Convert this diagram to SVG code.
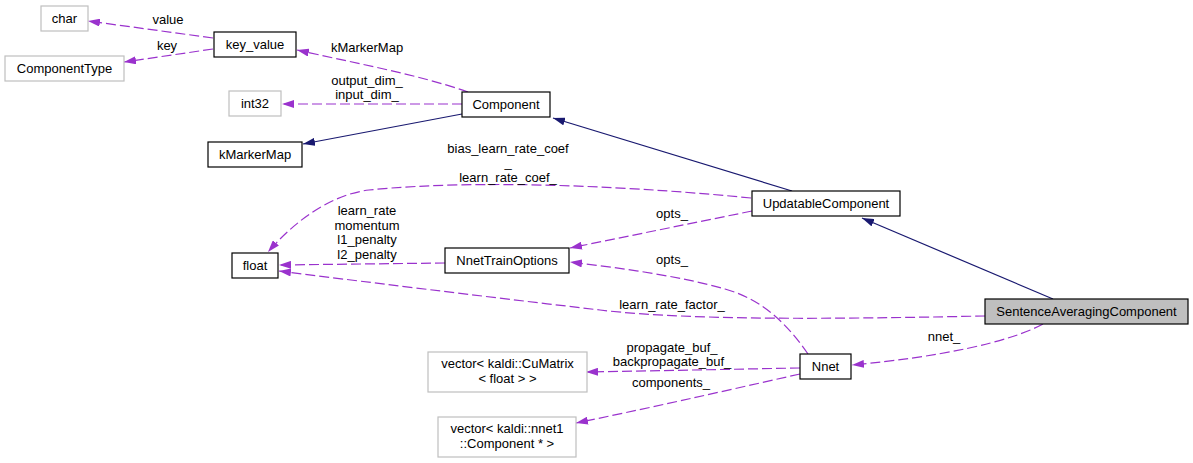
<svg xmlns="http://www.w3.org/2000/svg" width="1193" height="463" viewBox="0 0 1193 463">
<defs>
<style>
.n rect{fill:#ffffff;stroke:#000000;stroke-width:1.2}
.g rect{fill:#ffffff;stroke:#bfbfbf;stroke-width:1.2}
.h rect{fill:#bfbfbf;stroke:#000000;stroke-width:1.2}
text{font-family:"Liberation Sans",Arial,Helvetica,sans-serif;font-size:13px;fill:#000000;text-anchor:middle}
.d{fill:none;stroke:#9a32cd;stroke-width:1.2;stroke-dasharray:10,4;marker-end:url(#pa)}
.s{fill:none;stroke:#191970;stroke-width:1.2;marker-end:url(#na)}
</style>
<marker id="pa" viewBox="0 0 12 8" refX="12" refY="4" markerWidth="12" markerHeight="8" markerUnits="userSpaceOnUse" orient="auto">
<path d="M0,0 L12,4 L0,8 z" fill="#9a32cd"/>
</marker>
<marker id="na" viewBox="0 0 12 8" refX="12" refY="4" markerWidth="12" markerHeight="8" markerUnits="userSpaceOnUse" orient="auto">
<path d="M0,0 L12,4 L0,8 z" fill="#191970"/>
</marker>
</defs>
<rect x="0" y="0" width="1193" height="463" fill="#ffffff"/>
<g id="connectors">
<path class="d" d="M213,38 L88,21"/>
<text x="168" y="24">value</text>
<path class="d" d="M213,49 L124,62"/>
<text x="167" y="50">key</text>
<path class="d" d="M468,92 C420,75 350,62 297,50"/>
<text x="367" y="52">kMarkerMap</text>
<path class="d" d="M462,104 L282,104"/>
<text x="367" y="85">output_dim_</text>
<text x="367" y="99">input_dim_</text>
<path class="s" d="M462,114 L303,144"/>
<path class="s" d="M792,191 L553,118"/>
<path class="s" d="M1053,299 L862,218"/>
<path class="d" d="M751,198 C651,188 488,178 369,190 C336,194 300,215 268,252"/>
<text x="508" y="153">bias_learn_rate_coef</text>
<text x="508" y="167">_</text>
<text x="508" y="182">learn_rate_coef_</text>
<path class="d" d="M752,211 L570,248"/>
<text x="672" y="218">opts_</text>
<path class="d" d="M808,354 C790,328 765,300 725,289 C680,276 620,268 570,262"/>
<text x="672" y="264">opts_</text>
<path class="d" d="M445,263 L279,265"/>
<text x="367" y="215">learn_rate</text>
<text x="367" y="230">momentum</text>
<text x="367" y="244">l1_penalty</text>
<text x="367" y="259">l2_penalty</text>
<path class="d" d="M985,316 C880,318 700,322 600,310 C480,296 350,280 279,271"/>
<text x="672" y="309">learn_rate_factor_</text>
<path class="d" d="M1043,324 C1010,342 940,357 852,365"/>
<text x="944" y="341">nnet_</text>
<path class="d" d="M800,368 L586,372"/>
<text x="672" y="352">propagate_buf_</text>
<text x="672" y="366">backpropagate_buf_</text>
<path class="d" d="M800,374 C720,392 640,410 576,423"/>
<text x="671" y="387">components_</text>
</g>
<g id="node-char" class="g"><rect x="41" y="6" width="47" height="25"/><text x="64.5" y="23">char</text></g>
<g id="node-ComponentType" class="g"><rect x="5" y="56" width="119" height="25"/><text x="64.5" y="73">ComponentType</text></g>
<g id="node-key_value" class="n"><rect x="214" y="32" width="82" height="25"/><text x="255" y="49">key_value</text></g>
<g id="node-int32" class="g"><rect x="229" y="91" width="52" height="25"/><text x="255" y="108">int32</text></g>
<g id="node-Component" class="n"><rect x="462" y="92" width="88" height="25"/><text x="506" y="109">Component</text></g>
<g id="node-kMarkerMap" class="n"><rect x="208" y="142" width="94" height="25"/><text x="255" y="159">kMarkerMap</text></g>
<g id="node-UpdatableComponent" class="n"><rect x="752" y="191" width="148" height="25"/><text x="826" y="208">UpdatableComponent</text></g>
<g id="node-float" class="n"><rect x="232" y="253" width="46" height="25"/><text x="255" y="270">float</text></g>
<g id="node-NnetTrainOptions" class="n"><rect x="445" y="248" width="124" height="25"/><text x="507" y="265">NnetTrainOptions</text></g>
<g id="node-SentenceAveragingComponent" class="h"><rect x="985" y="299" width="203" height="25"/><text x="1086.5" y="316">SentenceAveragingComponent</text></g>
<g id="node-Nnet" class="n"><rect x="800" y="354" width="51" height="25"/><text x="825.5" y="371">Nnet</text></g>
<g id="node-vecCuMatrix" class="g"><rect x="428" y="352" width="159" height="40"/><text x="507.5" y="368">vector&lt; kaldi::CuMatrix</text><text x="507.5" y="383">&lt; float &gt; &gt;</text></g>
<g id="node-vecComponent" class="g"><rect x="438" y="417" width="138" height="40"/><text x="507" y="433">vector&lt; kaldi::nnet1</text><text x="507" y="448">::Component * &gt;</text></g>
</svg>
